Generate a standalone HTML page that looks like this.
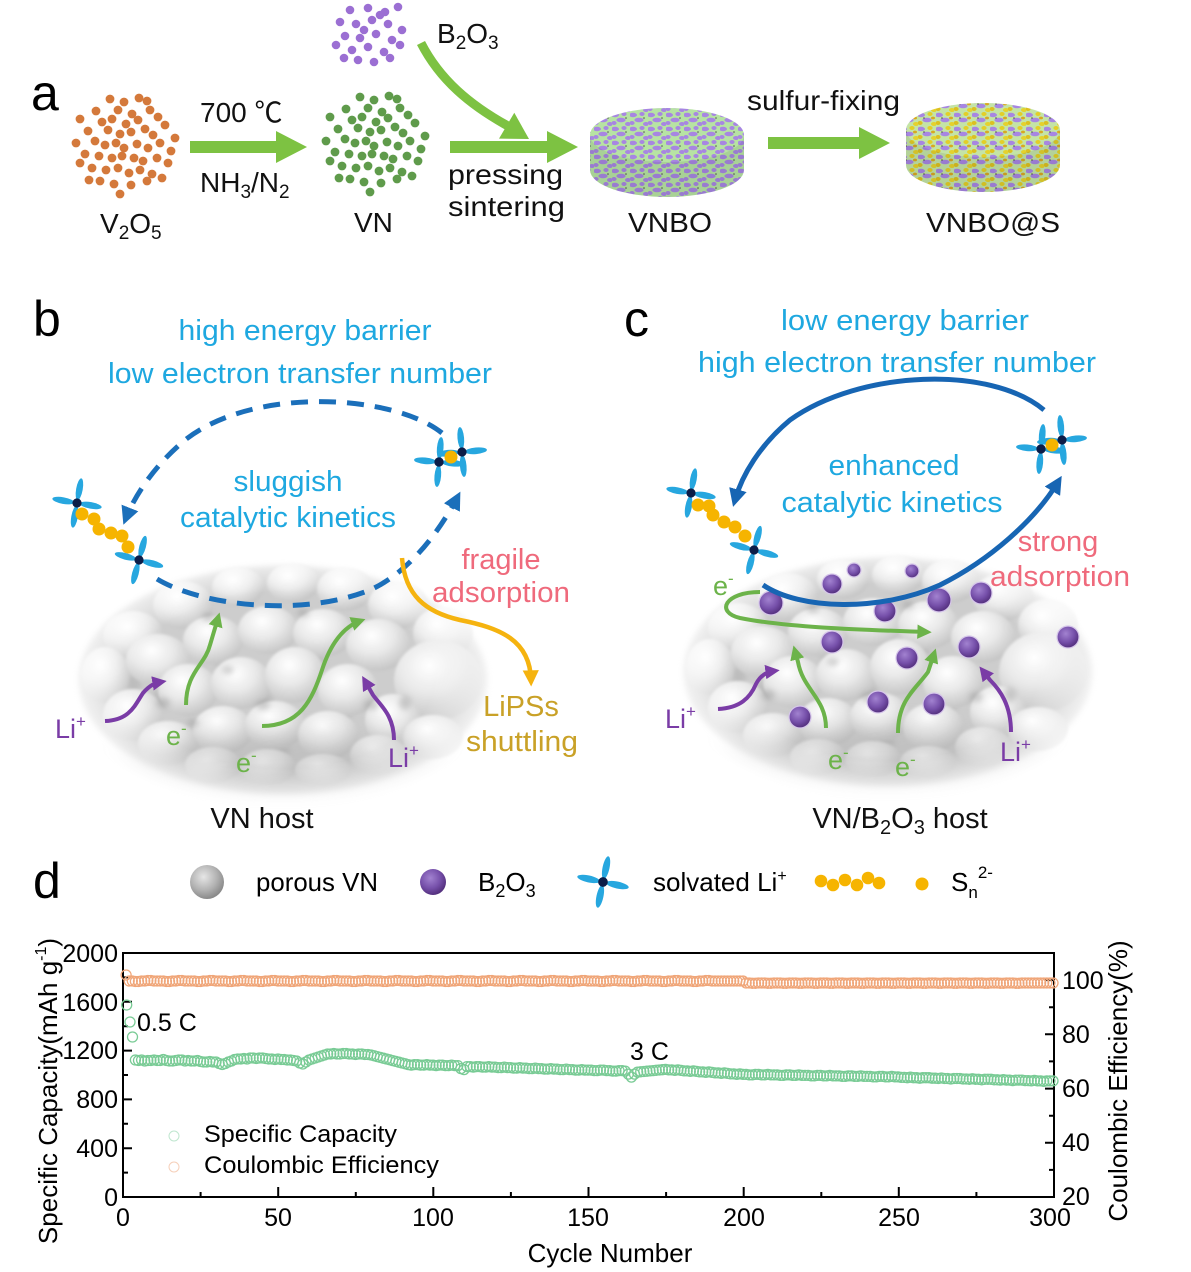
<!DOCTYPE html>
<html><head><meta charset="utf-8">
<style>
html,body{margin:0;padding:0;background:#fff;}
svg{display:block;}
text{font-family:"Liberation Sans","Noto Sans CJK SC",Arial,sans-serif;}
</style></head><body>
<svg width="1191" height="1272" viewBox="0 0 1191 1272" xmlns="http://www.w3.org/2000/svg" xmlns:xlink="http://www.w3.org/1999/xlink">
<defs>
  <filter id="bl1" x="-50%" y="-50%" width="200%" height="200%"><feGaussianBlur stdDeviation="1.2"/></filter>
  <filter id="bl3" x="-50%" y="-50%" width="200%" height="200%"><feGaussianBlur stdDeviation="3"/></filter>
  <filter id="bl12" x="-50%" y="-50%" width="200%" height="200%"><feGaussianBlur stdDeviation="12"/></filter>
  <radialGradient id="lg" cx="0.4" cy="0.32" r="0.68">
    <stop offset="0" stop-color="#ffffff"/><stop offset="0.5" stop-color="#e9e9e9"/><stop offset="1" stop-color="#c6c6c6"/>
  </radialGradient>
  <radialGradient id="bmg" cx="0.5" cy="0.5" r="0.5">
    <stop offset="0" stop-color="#fff"/><stop offset="0.68" stop-color="#fff"/><stop offset="1" stop-color="#000"/>
  </radialGradient>
  <radialGradient id="pg" cx="0.4" cy="0.35" r="0.65">
    <stop offset="0" stop-color="#a282d0"/><stop offset="0.6" stop-color="#7650aa"/><stop offset="1" stop-color="#54307e"/>
  </radialGradient>
  <radialGradient id="gsph" cx="0.4" cy="0.35" r="0.65">
    <stop offset="0" stop-color="#e6e6e6"/><stop offset="0.6" stop-color="#b3b3b3"/><stop offset="1" stop-color="#8a8a8a"/>
  </radialGradient>
  <mask id="bm" maskUnits="userSpaceOnUse" x="-270" y="-180" width="540" height="360">
    <ellipse cx="0" cy="5" rx="222" ry="130" fill="url(#bmg)"/>
  </mask>
  <g id="blob">
    <g mask="url(#bm)">
      <ellipse cx="0" cy="5" rx="205" ry="115" fill="#cdcdcd" filter="url(#bl3)"/>
      <g fill="#9a9a9a" opacity="0.3" filter="url(#bl3)">
        <ellipse cx="-120" cy="20" rx="10" ry="8"/><ellipse cx="-60" cy="-10" rx="8" ry="6"/>
        <ellipse cx="-20" cy="25" rx="10" ry="8"/><ellipse cx="35" cy="-15" rx="8" ry="6"/>
        <ellipse cx="85" cy="25" rx="10" ry="8"/><ellipse cx="-150" cy="10" rx="8" ry="10"/>
        <ellipse cx="-5" cy="75" rx="12" ry="8"/><ellipse cx="60" cy="40" rx="8" ry="8"/>
      </g>
      <g fill="url(#lg)" filter="url(#bl1)">
        <ellipse cx="-150" cy="-40" rx="30" ry="24"/><ellipse cx="-100" cy="-70" rx="30" ry="24"/>
        <ellipse cx="-45" cy="-88" rx="26" ry="20"/><ellipse cx="10" cy="-92" rx="26" ry="20"/>
        <ellipse cx="62" cy="-86" rx="28" ry="22"/><ellipse cx="115" cy="-70" rx="30" ry="24"/>
        <ellipse cx="160" cy="-42" rx="30" ry="26"/>
        <ellipse cx="-178" cy="0" rx="24" ry="28"/><ellipse cx="-125" cy="-15" rx="32" ry="26"/>
        <ellipse cx="-70" cy="-35" rx="30" ry="24"/><ellipse cx="-15" cy="-45" rx="30" ry="24"/>
        <ellipse cx="40" cy="-42" rx="30" ry="24"/><ellipse cx="95" cy="-30" rx="32" ry="26"/>
        <ellipse cx="155" cy="5" rx="44" ry="40"/>
        <ellipse cx="-150" cy="40" rx="30" ry="26"/><ellipse cx="-95" cy="15" rx="30" ry="26"/>
        <ellipse cx="-42" cy="8" rx="30" ry="26"/><ellipse cx="12" cy="0" rx="30" ry="28"/>
        <ellipse cx="65" cy="15" rx="30" ry="26"/><ellipse cx="110" cy="45" rx="28" ry="26"/>
        <ellipse cx="-115" cy="68" rx="30" ry="22"/><ellipse cx="-60" cy="55" rx="30" ry="24"/>
        <ellipse cx="-8" cy="50" rx="30" ry="24"/><ellipse cx="45" cy="60" rx="30" ry="24"/>
        <ellipse cx="95" cy="80" rx="28" ry="20"/><ellipse cx="150" cy="62" rx="30" ry="22"/>
        <ellipse cx="-70" cy="90" rx="28" ry="18"/><ellipse cx="-15" cy="92" rx="28" ry="18"/>
        <ellipse cx="40" cy="95" rx="28" ry="16"/>
      </g>
      <g fill="#8a8a8a" opacity="0.35" filter="url(#bl3)">
        <ellipse cx="-120" cy="28" rx="7" ry="5"/><ellipse cx="-55" cy="-5" rx="6" ry="4"/>
        <ellipse cx="-20" cy="30" rx="7" ry="5"/><ellipse cx="88" cy="30" rx="7" ry="5"/>
        <ellipse cx="122" cy="28" rx="6" ry="7"/><ellipse cx="-90" cy="48" rx="6" ry="4"/>
        <ellipse cx="20" cy="-62" rx="6" ry="4"/><ellipse cx="-75" cy="-58" rx="6" ry="4"/>
      </g>
      <ellipse cx="0" cy="92" rx="175" ry="32" fill="#a4a4a4" opacity="0.3" filter="url(#bl12)"/>
    </g>
  </g>
  <g id="cl">
    <circle cx="-16" cy="-44" r="4.4"/><circle cx="-2" cy="-41" r="4.4"/><circle cx="13" cy="-45" r="4.4"/><circle cx="21" cy="-42" r="4.4"/>
    <circle cx="-30" cy="-32" r="4.4"/><circle cx="-8" cy="-33" r="4.4"/><circle cx="6" cy="-29" r="4.4"/><circle cx="24" cy="-33" r="4.4"/>
    <circle cx="-46" cy="-24" r="4.4"/><circle cx="-24" cy="-21" r="4.4"/><circle cx="-14" cy="-24" r="4.4"/><circle cx="0" cy="-19" r="4.4"/>
    <circle cx="12" cy="-23" r="4.4"/><circle cx="32" cy="-26" r="4.4"/><circle cx="39" cy="-18" r="4.4"/><circle cx="-38" cy="-12" r="4.4"/>
    <circle cx="-18" cy="-13" r="4.4"/><circle cx="-6" cy="-9" r="4.4"/><circle cx="5" cy="-11" r="4.4"/><circle cx="19" cy="-14" r="4.4"/>
    <circle cx="27" cy="-8" r="4.4"/><circle cx="-50" cy="0" r="4.4"/><circle cx="-31" cy="-2" r="4.4"/><circle cx="-21" cy="2" r="4.4"/>
    <circle cx="-10" cy="0" r="4.4"/><circle cx="-2" cy="5" r="4.4"/><circle cx="11" cy="1" r="4.4"/><circle cx="22" cy="5" r="4.4"/>
    <circle cx="34" cy="0" r="4.4"/><circle cx="45" cy="8" r="4.4"/><circle cx="-41" cy="11" r="4.4"/><circle cx="-27" cy="13" r="4.4"/>
    <circle cx="-14" cy="15" r="4.4"/><circle cx="-4" cy="13" r="4.4"/><circle cx="8" cy="15" r="4.4"/><circle cx="17" cy="18" r="4.4"/>
    <circle cx="31" cy="15" r="4.4"/><circle cx="42" cy="20" r="4.4"/><circle cx="-34" cy="25" r="4.4"/><circle cx="-20" cy="27" r="4.4"/>
    <circle cx="-8" cy="25" r="4.4"/><circle cx="3" cy="30" r="4.4"/><circle cx="14" cy="27" r="4.4"/><circle cx="26" cy="31" r="4.4"/>
    <circle cx="-26" cy="38" r="4.4"/><circle cx="-12" cy="41" r="4.4"/><circle cx="5" cy="42" r="4.4"/><circle cx="21" cy="38" r="4.4"/>
    <circle cx="36" cy="35" r="4.4"/><circle cx="-6" cy="51" r="4.4"/><circle cx="-37" cy="37" r="4.4"/><circle cx="49" cy="-5" r="4.4"/>
    <circle cx="-46" cy="20" r="4.4"/>
  </g>
  <g id="li">
    <g fill="#27a7df">
      <ellipse cx="-14" cy="0" rx="11" ry="3.3"/><ellipse cx="14" cy="0" rx="11" ry="3.3"/>
      <ellipse cx="0" cy="-14" rx="3.3" ry="11"/><ellipse cx="0" cy="14" rx="3.3" ry="11"/>
    </g>
    <circle r="4.6" fill="#0c1d48"/>
  </g>
  <pattern id="pv" width="18" height="14" patternUnits="userSpaceOnUse">
    <rect width="18" height="14" fill="#b7e3a3"/>
    <ellipse cx="3" cy="3" rx="4" ry="2.2" fill="#a786e2"/><ellipse cx="12" cy="2" rx="2.6" ry="2" fill="#a786e2"/>
    <ellipse cx="9" cy="8" rx="4.6" ry="2.3" fill="#a786e2"/><ellipse cx="2" cy="11" rx="2.6" ry="2" fill="#a786e2"/>
    <ellipse cx="16" cy="12" rx="3" ry="2" fill="#a786e2"/><circle cx="14" cy="6" r="0.8" fill="#555"/>
  </pattern>
  <pattern id="ps" width="18" height="14" patternUnits="userSpaceOnUse">
    <rect width="18" height="14" fill="#c4e4a6"/>
    <ellipse cx="3" cy="3" rx="4" ry="2.2" fill="#a786e2"/><ellipse cx="12" cy="2" rx="2.6" ry="2" fill="#e3cf27"/>
    <ellipse cx="9" cy="8" rx="4.6" ry="2.3" fill="#a786e2"/><ellipse cx="2" cy="11" rx="2.6" ry="2" fill="#dcc021"/>
    <ellipse cx="16" cy="12" rx="3" ry="2" fill="#e5d22c"/><ellipse cx="15" cy="6" rx="2" ry="1.4" fill="#d9a820"/>
    <circle cx="6" cy="6" r="0.8" fill="#555"/>
  </pattern>
  <marker id="aB" viewBox="0 0 10 10" refX="6" refY="5" markerWidth="3.6" markerHeight="3.6" orient="auto"><path d="M0,0 L10,5 L0,10 z" fill="#1b6fba"/></marker>
  <marker id="aB2" viewBox="0 0 10 10" refX="6" refY="5" markerWidth="3.6" markerHeight="3.6" orient="auto"><path d="M0,0 L10,5 L0,10 z" fill="#1765b3"/></marker>
  <marker id="aG" viewBox="0 0 10 10" refX="6" refY="5" markerWidth="3.6" markerHeight="3.6" orient="auto"><path d="M0,0 L10,5 L0,10 z" fill="#6cb34a"/></marker>
  <marker id="aP" viewBox="0 0 10 10" refX="6" refY="5" markerWidth="3.6" markerHeight="3.6" orient="auto"><path d="M0,0 L10,5 L0,10 z" fill="#7a3ca6"/></marker>
  <marker id="aO" viewBox="0 0 10 10" refX="6" refY="5" markerWidth="3.6" markerHeight="3.6" orient="auto"><path d="M0,0 L10,5 L0,10 z" fill="#f5b30f"/></marker>
  <marker id="mg" markerUnits="userSpaceOnUse" markerWidth="14" markerHeight="14" refX="7" refY="7" overflow="visible"><circle cx="7" cy="7" r="5" fill="none" stroke="#79cb95" stroke-width="1.3"/></marker>
  <marker id="mo" markerUnits="userSpaceOnUse" markerWidth="14" markerHeight="14" refX="7" refY="7" overflow="visible"><circle cx="7" cy="7" r="5" fill="none" stroke="#f0a679" stroke-width="1.3"/></marker>
</defs>
<rect width="1191" height="1272" fill="#fff"/>

<!-- ============ Panel a ============ -->
<text x="31" y="110" font-size="50">a</text>
<use xlink:href="#cl" href="#cl" transform="translate(126,143)" fill="#d4793b"/>
<use xlink:href="#cl" href="#cl" transform="translate(376,141)" fill="#5f9b4b"/>
<g fill="#9b6fd3">
  <circle cx="350" cy="10" r="4.3"/><circle cx="368" cy="8" r="4.3"/><circle cx="385" cy="12" r="4.3"/><circle cx="398" cy="7" r="4.3"/>
  <circle cx="340" cy="22" r="4.3"/><circle cx="356" cy="24" r="4.3"/><circle cx="372" cy="20" r="4.3"/><circle cx="388" cy="24" r="4.3"/>
  <circle cx="402" cy="30" r="4.3"/><circle cx="345" cy="36" r="4.3"/><circle cx="360" cy="38" r="4.3"/><circle cx="376" cy="34" r="4.3"/>
  <circle cx="392" cy="40" r="4.3"/><circle cx="336" cy="45" r="4.3"/><circle cx="352" cy="50" r="4.3"/><circle cx="368" cy="47" r="4.3"/>
  <circle cx="384" cy="52" r="4.3"/><circle cx="400" cy="45" r="4.3"/><circle cx="358" cy="60" r="4.3"/><circle cx="374" cy="62" r="4.3"/>
  <circle cx="390" cy="58" r="4.3"/><circle cx="344" cy="58" r="4.3"/><circle cx="380" cy="15" r="4.3"/><circle cx="364" cy="30" r="4.3"/>
</g>
<g fill="#7dc242">
  <path d="M190,141 H276 V131 L307,147 L276,163 V153 H190 Z"/>
  <path d="M450,141 H547 V131 L578,147 L547,163 V153 H450 Z"/>
  <path d="M768,137 H859 V127 L890,143 L859,159 V149 H768 Z"/>
  <path d="M529,139 L499,138.6 L514.3,112.8 Z"/>
</g>
<path d="M421,43 C440,80 470,105 508,126" fill="none" stroke="#7dc242" stroke-width="9"/>
<g font-size="28" fill="#111">
  <text x="200" y="122">700 ℃</text>
  <text x="200" y="192">NH<tspan font-size="19" dy="6">3</tspan><tspan dy="-6">/N</tspan><tspan font-size="19" dy="6">2</tspan></text>
  <text x="437" y="43">B<tspan font-size="19" dy="6">2</tspan><tspan dy="-6">O</tspan><tspan font-size="19" dy="6">3</tspan></text>
  <text x="100" y="233">V<tspan font-size="19" dy="6">2</tspan><tspan dy="-6">O</tspan><tspan font-size="19" dy="6">5</tspan></text>
  <text x="354" y="232">VN</text>
  <text x="448" y="184" textLength="115" lengthAdjust="spacingAndGlyphs">pressing</text>
  <text x="448" y="216" textLength="117" lengthAdjust="spacingAndGlyphs">sintering</text>
  <text x="628" y="232" textLength="84" lengthAdjust="spacingAndGlyphs">VNBO</text>
  <text x="747" y="110" textLength="153" lengthAdjust="spacingAndGlyphs">sulfur-fixing</text>
  <text x="926" y="232" textLength="134" lengthAdjust="spacingAndGlyphs">VNBO@S</text>
</g>
<!-- discs -->
<g>
  <path d="M590,135 L590,170 A77,27 0 0 0 744,170 L744,135 Z" fill="url(#pv)"/>
  <path d="M590,135 L590,170 A77,27 0 0 0 744,170 L744,135 Z" fill="#000" opacity="0.08"/>
  <ellipse cx="667" cy="135" rx="77" ry="27" fill="url(#pv)"/>
  <path d="M906,130 L906,165 A77,27 0 0 0 1060,165 L1060,130 Z" fill="url(#ps)"/>
  <path d="M906,130 L906,165 A77,27 0 0 0 1060,165 L1060,130 Z" fill="#000" opacity="0.08"/>
  <ellipse cx="983" cy="130" rx="77" ry="27" fill="url(#ps)"/>
</g>

<!-- ============ Panel b ============ -->
<text x="33" y="336" font-size="50">b</text>
<g font-size="29" fill="#1ea8e0" text-anchor="middle">
  <text x="305" y="340" textLength="253" lengthAdjust="spacingAndGlyphs">high energy barrier</text>
  <text x="300" y="383" textLength="384" lengthAdjust="spacingAndGlyphs">low electron transfer number</text>
  <text x="288" y="491" textLength="109" lengthAdjust="spacingAndGlyphs">sluggish</text>
  <text x="288" y="527" textLength="216" lengthAdjust="spacingAndGlyphs">catalytic kinetics</text>
</g>
<use xlink:href="#blob" href="#blob" x="283" y="675"/>
<!-- dashed cycle -->
<g fill="none" stroke="#1b6fba" stroke-width="5" stroke-dasharray="17 11">
  <path d="M442,433 C395,395 255,385 185,440 C155,465 135,495 126,518" marker-end="url(#aB)"/>
  <path d="M157,579 C200,605 300,618 370,590 C410,572 440,530 457,498" marker-end="url(#aB)"/>
</g>
<!-- orange shuttling -->
<path d="M402,558 C405,595 425,612 460,620 C500,628 530,640 531,680" fill="none" stroke="#f5b30f" stroke-width="4.5" marker-end="url(#aO)"/>
<!-- green/purple arrows b -->
<g fill="none" stroke-width="4">
  <path d="M186,705 C186,672 205,665 210,645 L218,618" stroke="#6cb34a" marker-end="url(#aG)"/>
  <path d="M262,726 C300,726 312,700 322,670 C330,645 343,627 360,621" stroke="#6cb34a" marker-end="url(#aG)"/>
  <path d="M105,721 C130,720 135,705 143,693 C150,685 155,683 161,682" stroke="#7a3ca6" marker-end="url(#aP)"/>
  <path d="M394,740 C394,715 380,705 373,695 L365,681" stroke="#7a3ca6" marker-end="url(#aP)"/>
</g>
<!-- chain b -->
<use xlink:href="#li" href="#li" transform="translate(77,503) rotate(10)"/>
<g fill="#f6b400">
  <circle cx="82" cy="514" r="6.5"/><circle cx="94" cy="519" r="6.5"/><circle cx="99" cy="529" r="6.5"/>
  <circle cx="111" cy="533" r="6.5"/><circle cx="122" cy="536" r="6.5"/><circle cx="128" cy="547" r="6.5"/>
</g>
<use xlink:href="#li" href="#li" transform="translate(139,560) rotate(15)"/>
<use xlink:href="#li" href="#li" transform="translate(439,462) rotate(5)"/>
<use xlink:href="#li" href="#li" transform="translate(462,452) rotate(-5)"/>
<circle cx="451" cy="457" r="6.5" fill="#f6b400"/>
<circle cx="439" cy="462" r="4.6" fill="#0c1d48"/>
<g font-size="29" text-anchor="middle">
  <text x="501" y="569" fill="#ef6a7c">fragile</text>
  <text x="501" y="602" fill="#ef6a7c" textLength="138" lengthAdjust="spacingAndGlyphs">adsorption</text>
  <text x="521" y="716" fill="#c9a127">LiPSs</text>
  <text x="522" y="751" fill="#c9a127" textLength="112" lengthAdjust="spacingAndGlyphs">shuttling</text>
</g>
<g font-size="27">
  <text x="55" y="738" fill="#7a3ca6">Li<tspan font-size="17" dy="-11">+</tspan></text>
  <text x="388" y="767" fill="#7a3ca6">Li<tspan font-size="17" dy="-11">+</tspan></text>
  <text x="166" y="745" fill="#6cb34a">e<tspan font-size="17" dy="-11">-</tspan></text>
  <text x="236" y="772" fill="#6cb34a">e<tspan font-size="17" dy="-11">-</tspan></text>
</g>
<text x="262" y="828" font-size="29" text-anchor="middle" fill="#111">VN host</text>

<!-- ============ Panel c ============ -->
<text x="624" y="336" font-size="50">c</text>
<g font-size="29" fill="#1ea8e0" text-anchor="middle">
  <text x="905" y="330" textLength="248" lengthAdjust="spacingAndGlyphs">low energy barrier</text>
  <text x="897" y="372" textLength="398" lengthAdjust="spacingAndGlyphs">high electron transfer number</text>
  <text x="894" y="475" textLength="131" lengthAdjust="spacingAndGlyphs">enhanced</text>
  <text x="892" y="512" textLength="221" lengthAdjust="spacingAndGlyphs">catalytic kinetics</text>
</g>
<use xlink:href="#blob" href="#blob" x="888" y="667"/>
<g fill="url(#pg)" stroke="#d6c6ea" stroke-width="1.2">
  <circle cx="854" cy="570" r="7"/><circle cx="912" cy="571" r="7"/><circle cx="832" cy="584" r="10"/>
  <circle cx="771" cy="603" r="12"/><circle cx="885" cy="611" r="11"/><circle cx="939" cy="600" r="12"/>
  <circle cx="981" cy="593" r="11"/><circle cx="832" cy="642" r="11"/><circle cx="907" cy="658" r="11"/>
  <circle cx="969" cy="647" r="11"/><circle cx="1068" cy="637" r="11"/><circle cx="878" cy="702" r="11"/>
  <circle cx="934" cy="704" r="11"/><circle cx="800" cy="717" r="11"/>
</g>
<g fill="none" stroke-width="4">
  <path d="M760,592 C725,592 715,612 740,618 C790,628 870,630 926,632" stroke="#6cb34a" marker-end="url(#aG)"/>
  <path d="M826,728 C826,698 803,690 798,662 L795,651" stroke="#6cb34a" marker-end="url(#aG)"/>
  <path d="M898,733 C898,700 915,690 928,672 L934,654" stroke="#6cb34a" marker-end="url(#aG)"/>
  <path d="M718,709 C740,708 750,698 756,684 C760,676 766,672 774,671" stroke="#7a3ca6" marker-end="url(#aP)"/>
  <path d="M1011,732 C1011,705 1000,690 990,680 L983,671" stroke="#7a3ca6" marker-end="url(#aP)"/>
</g>
<g fill="none" stroke="#1765b3" stroke-width="5">
  <path d="M1044,410 C990,365 860,370 790,420 C760,445 742,475 735,500" marker-end="url(#aB2)"/>
  <path d="M763,585 C800,610 880,612 940,585 C990,560 1035,520 1058,482" marker-end="url(#aB2)"/>
</g>
<use xlink:href="#li" href="#li" transform="translate(691,493) rotate(10)"/>
<g fill="#f6b400">
  <circle cx="698" cy="505" r="6.5"/><circle cx="709" cy="506" r="6.5"/><circle cx="713" cy="515" r="6.5"/>
  <circle cx="724" cy="522" r="6.5"/><circle cx="735" cy="527" r="6.5"/><circle cx="745" cy="536" r="6.5"/>
</g>
<use xlink:href="#li" href="#li" transform="translate(754,550) rotate(15)"/>
<use xlink:href="#li" href="#li" transform="translate(1041,449) rotate(5)"/>
<use xlink:href="#li" href="#li" transform="translate(1062,440) rotate(-5)"/>
<circle cx="1052" cy="445" r="6.5" fill="#f6b400"/>
<circle cx="1041" cy="449" r="4.6" fill="#0c1d48"/>
<g font-size="29" text-anchor="middle" fill="#ef6a7c">
  <text x="1058" y="551">strong</text>
  <text x="1060" y="586" textLength="140" lengthAdjust="spacingAndGlyphs">adsorption</text>
</g>
<g font-size="27">
  <text x="713" y="595" fill="#6cb34a">e<tspan font-size="17" dy="-11">-</tspan></text>
  <text x="665" y="728" fill="#7a3ca6">Li<tspan font-size="17" dy="-11">+</tspan></text>
  <text x="828" y="769" fill="#6cb34a">e<tspan font-size="17" dy="-11">-</tspan></text>
  <text x="895" y="776" fill="#6cb34a">e<tspan font-size="17" dy="-11">-</tspan></text>
  <text x="1000" y="761" fill="#7a3ca6">Li<tspan font-size="17" dy="-11">+</tspan></text>
</g>
<text x="900" y="828" font-size="29" text-anchor="middle" fill="#111">VN/B<tspan font-size="20" dy="6">2</tspan><tspan dy="-6">O</tspan><tspan font-size="20" dy="6">3</tspan><tspan dy="-6"> host</tspan></text>

<!-- ============ Panel d legend ============ -->
<text x="33" y="898" font-size="50">d</text>
<circle cx="207" cy="882" r="17" fill="url(#gsph)"/>
<text x="256" y="891" font-size="26" textLength="122" lengthAdjust="spacingAndGlyphs">porous VN</text>
<circle cx="433" cy="882" r="13" fill="url(#pg)"/>
<text x="478" y="891" font-size="26">B<tspan font-size="18" dy="6">2</tspan><tspan dy="-6">O</tspan><tspan font-size="18" dy="6">3</tspan></text>
<use xlink:href="#li" href="#li" transform="translate(603,882) rotate(12) scale(1.05)"/>
<text x="653" y="891" font-size="26">solvated Li<tspan font-size="16" dy="-10">+</tspan></text>
<g fill="#f6b400">
  <circle cx="821" cy="881" r="6.3"/><circle cx="833" cy="885" r="6.3"/><circle cx="845" cy="880" r="6.3"/>
  <circle cx="857" cy="885" r="6.3"/><circle cx="868" cy="878" r="6.3"/><circle cx="879" cy="883" r="6.3"/>
  <circle cx="922" cy="884" r="6.5"/>
</g>
<text x="951" y="891" font-size="26">S<tspan font-size="17" dy="7">n</tspan><tspan font-size="17" dy="-20">2-</tspan></text>

<!-- ============ Chart ============ -->
<g stroke="#000" stroke-width="2" fill="none">
  <rect x="123" y="953" width="931" height="244"/>
  <path d="M123,1197 v-10 M278.2,1197 v-10 M433.3,1197 v-10 M588.5,1197 v-10 M743.7,1197 v-10 M898.8,1197 v-10 M1054,1197 v-10
           M200.6,1197 v-5 M355.8,1197 v-5 M510.9,1197 v-5 M666.1,1197 v-5 M821.3,1197 v-5 M976.4,1197 v-5"/>
  <path d="M123,1148.2 h9 M123,1099.4 h9 M123,1050.6 h9 M123,1001.8 h9
           M123,1172.6 h5 M123,1123.8 h5 M123,1075 h5 M123,1026.2 h5 M123,977.4 h5"/>
  <path d="M1054,1142.8 h-9 M1054,1088.6 h-9 M1054,1034.3 h-9 M1054,980.1 h-9
           M1054,1169.9 h-5 M1054,1115.7 h-5 M1054,1061.4 h-5 M1054,1007.2 h-5"/>
</g>
<g font-size="25" text-anchor="end">
  <text x="118" y="1206">0</text><text x="118" y="1157">400</text><text x="118" y="1108">800</text>
  <text x="118" y="1059">1200</text><text x="118" y="1011">1600</text><text x="118" y="962">2000</text>
</g>
<g font-size="25" text-anchor="middle">
  <text x="123" y="1226">0</text><text x="278" y="1226">50</text><text x="433" y="1226">100</text>
  <text x="588" y="1226">150</text><text x="744" y="1226">200</text><text x="899" y="1226">250</text><text x="1050" y="1226">300</text>
</g>
<g font-size="25">
  <text x="1062" y="1205">20</text><text x="1062" y="1151">40</text><text x="1062" y="1097">60</text>
  <text x="1062" y="1043">80</text><text x="1062" y="989">100</text>
</g>
<text transform="translate(57,1091) rotate(-90)" font-size="26" text-anchor="middle">Specific Capacity(mAh g<tspan font-size="16" dy="-11">-1</tspan><tspan dy="11">)</tspan></text>
<text transform="translate(1127,1081) rotate(-90)" font-size="26" text-anchor="middle">Coulombic Efficiency(%)</text>
<text x="610" y="1262" font-size="26" text-anchor="middle">Cycle Number</text>
<text x="137" y="1031" font-size="25">0.5 C</text>
<text x="630" y="1060" font-size="25">3 C</text>
<circle cx="174" cy="1136" r="5" fill="none" stroke="#bfe6cf" stroke-width="1"/>
<circle cx="174" cy="1167" r="5" fill="none" stroke="#f6d0ba" stroke-width="1"/>
<text x="204" y="1142" font-size="24" textLength="193" lengthAdjust="spacingAndGlyphs">Specific Capacity</text>
<text x="204" y="1173" font-size="24" textLength="235" lengthAdjust="spacingAndGlyphs">Coulombic Efficiency</text>

<!-- CE series -->
<path fill="none" stroke="none" marker-start="url(#mo)" marker-mid="url(#mo)" marker-end="url(#mo)" d="M126.1,975 l3.1,6
h3.1 l3.1,.5 h3.1 l3.1,-.5 h3.1 l3.1,-.5 h3.1 l3.1,.5 h3.1 h3.1
h3.1 l3.1,.5 h3.1 l3.1,-.5 h3.1 l3.1,-.5 h3.1 l3.1,.5 h3.1 h3.1
h3.1 l3.1,.5 h3.1 l3.1,-.5 h3.1 l3.1,-.5 h3.1 l3.1,.5 h3.1 h3.1
h3.1 l3.1,.5 h3.1 l3.1,-.5 h3.1 l3.1,-.5 h3.1 l3.1,.5 h3.1 h3.1
h3.1 l3.1,.5 h3.1 l3.1,-.5 h3.1 l3.1,-.5 h3.1 l3.1,.5 h3.1 h3.1
h3.1 l3.1,.5 h3.1 l3.1,-.5 h3.1 l3.1,-.5 h3.1 l3.1,.5 h3.1 h3.1
h3.1 l3.1,.5 h3.1 l3.1,-.5 h3.1 l3.1,-.5 h3.1 l3.1,.5 h3.1 h3.1
h3.1 l3.1,.5 h3.1 l3.1,-.5 h3.1 l3.1,-.5 h3.1 l3.1,.5 h3.1 h3.1
h3.1 l3.1,.5 h3.1 l3.1,-.5 h3.1 l3.1,-.5 h3.1 l3.1,.5 h3.1 h3.1
h3.1 l3.1,.5 h3.1 l3.1,-.5 h3.1 l3.1,-.5 h3.1 l3.1,.5 h3.1 h3.1
h3.1 l3.1,.5 h3.1 l3.1,-.5 h3.1 l3.1,-.5 h3.1 l3.1,.5 h3.1 h3.1
h3.1 l3.1,.5 h3.1 l3.1,-.5 h3.1 l3.1,-.5 h3.1 l3.1,.5 h3.1 h3.1
h3.1 l3.1,.5 h3.1 l3.1,-.5 h3.1 l3.1,-.5 h3.1 l3.1,.5 h3.1 h3.1
h3.1 l3.1,.5 h3.1 l3.1,-.5 h3.1 l3.1,-.5 h3.1 l3.1,.5 h3.1 h3.1
h3.1 l3.1,.5 h3.1 l3.1,-.5 h3.1 l3.1,-.5 h3.1 l3.1,.5 h3.1 h3.1
h3.1 l3.1,.5 h3.1 l3.1,-.5 h3.1 l3.1,-.5 h3.1 l3.1,.5 h3.1 h3.1
h3.1 l3.1,.5 h3.1 l3.1,-.5 h3.1 l3.1,-.5 h3.1 l3.1,.5 h3.1 h3.1
h3.1 l3.1,.5 h3.1 l3.1,-.5 h3.1 l3.1,-.5 h3.1 l3.1,.5 h3.1 h3.1
h3.1 l3.1,.5 h3.1 l3.1,-.5 h3.1 l3.1,-.5 h3.1 l3.1,.5 h3.1 h3.1
h3.1 h3.1 h3.1 h3.1 h3.1 h3.1 h3.1 h3.1
l3.1,2
h3.1 l3.1,.3 h3.1 l3.1,-.3 h3.1 h3.1 l3.1,.3 h3.1 l3.1,-.3 h3.1
h3.1 l3.1,.3 h3.1 l3.1,-.3 h3.1 h3.1 l3.1,.3 h3.1 l3.1,-.3 h3.1
h3.1 l3.1,.3 h3.1 l3.1,-.3 h3.1 h3.1 l3.1,.3 h3.1 l3.1,-.3 h3.1
h3.1 l3.1,.3 h3.1 l3.1,-.3 h3.1 h3.1 l3.1,.3 h3.1 l3.1,-.3 h3.1
h3.1 l3.1,.3 h3.1 l3.1,-.3 h3.1 h3.1 l3.1,.3 h3.1 l3.1,-.3 h3.1
h3.1 l3.1,.3 h3.1 l3.1,-.3 h3.1 h3.1 l3.1,.3 h3.1 l3.1,-.3 h3.1
h3.1 l3.1,.3 h3.1 l3.1,-.3 h3.1 h3.1 l3.1,.3 h3.1 l3.1,-.3 h3.1
h3.1 l3.1,.3 h3.1 l3.1,-.3 h3.1 h3.1 l3.1,.3 h3.1 l3.1,-.3 h3.1
h3.1 l3.1,.3 h3.1 l3.1,-.3 h3.1 h3.1 l3.1,.3 h3.1 l3.1,-.3 h3.1
h3.1 h3.1 h3.1 h3.1 h3.1 h3.1 h3.1 h3.1 h3.1"/>

<!-- capacity 0.5C -->
<g fill="none" stroke="#79cb95" stroke-width="1.3">
  <circle cx="126.7" cy="1005" r="5"/><circle cx="130" cy="1022" r="5"/><circle cx="132.5" cy="1037" r="5"/>
</g>
<!-- capacity 3C -->
<path fill="none" stroke="none" marker-start="url(#mg)" marker-mid="url(#mg)" marker-end="url(#mg)" d="M135.4,1060
l3.1,.5 l3.1,-.5 l3.1,1 l3.1,-.5 h3.1 l3.1,-.5 l3.1,.5 h3.1 l3.1,-1 l3.1,1 l3.1,.5 h3.1 l3.1,-.5 l3.1,-.5 h3.1 l3.1,1 l3.1,-.5 l3.1,.5 h3.1 l3.1,-.5 l3.1,1 l3.1,.5 h3.1 l3.1,-.5 l3.1,.5 h3.1
l3.1,1.5 l3.1,1 l3.1,-1 l3.1,-1.5 l3.1,-1 l3.1,-1.5
l3.1,-.5 h3.1 l3.1,-.5 l3.1,.5 l3.1,-1 h3.1 l3.1,.5 l3.1,-.5 h3.1 l3.1,.5
l3.1,.5 h3.1 l3.1,.5 l3.1,-.5 l3.1,.5 h3.1 l3.1,.5 h3.1 l3.1,.5 l3.1,.5
l3.1,2 l3.1,1 l3.1,-2 l3.1,-2
l3.1,-1 l3.1,-1 l3.1,-1 l3.1,-1 l3.1,-1 l3.1,-1
h3.1 l3.1,-.5 l3.1,.5 h3.1 l3.1,-.5 h3.1 l3.1,.5 h3.1 l3.1,.5 l3.1,-.5 h3.1 l3.1,.5 h3.1 l3.1,.5
l3.1,.8 l3.1,.8 l3.1,.8 l3.1,.8 l3.1,.8 l3.1,.8 l3.1,.8 l3.1,.8 l3.1,.8 l3.1,.8 l3.1,.8 l3.1,.8
l3.1,.5 l3.1,-.5 h3.1 l3.1,.5 h3.1 l3.1,-.5 l3.1,.5 h3.1 l3.1,.5 l3.1,-.5 h3.1 l3.1,.5 h3.1 l3.1,-.5 l3.1,.5 h3.1
l3.1,3 l3.1,1 l3.1,-3
h3.1 l3.1,.5 l3.1,-.5 h3.1 l3.1,.5 h3.1 l3.1,-.5 l3.1,.5 h3.1 l3.1,.5 h3.1 l3.1,-.5 l3.1,.5 h3.1
l3.1,.5 h3.1 l3.1,-.5 l3.1,.5 h3.1 l3.1,.5 h3.1 l3.1,-.5 l3.1,.5 h3.1
l3.1,.5 h3.1 l3.1,-.5 l3.1,.5 h3.1 l3.1,.5 h3.1 l3.1,-.5 l3.1,.5 h3.1
l3.1,.5 h3.1 l3.1,-.5 l3.1,.5 h3.1
h3.1 l3.1,.5 h3.1 l3.1,-.5 h3.1 l3.1,.5 h3.1 l3.1,.5 h3.1 l3.1,-.5 h3.1 l3.1,.5
l3.1,3 l3.1,3 l3.1,-3 l3.1,-2
l3.1,-.3 l3.1,-.3 l3.1,-.3 l3.1,-.3 l3.1,-.3 l3.1,-.3 l3.1,-.3 l3.1,-.3 l3.1,-.3
l3.1,.5 h3.1 l3.1,.5 l3.1,-.5 l3.1,.5
l3.1,.5 h3.1 l3.1,.5 l3.1,-.5 l3.1,.5
l3.1,.5 h3.1 l3.1,.5 l3.1,-.5 l3.1,.5
l3.1,.5 h3.1 l3.1,.5 l3.1,-.5 l3.1,.5
l3.1,.5 h3.1 l3.1,.5 l3.1,-.5 l3.1,.5
h3.1 l3.1,.5 h3.1 l3.1,-.5 h3.1 l3.1,.5 h3.1 l3.1,-.5 l3.1,.5 h3.1
h3.1 l3.1,.5 h3.1 l3.1,-.5 h3.1 l3.1,.5 h3.1 l3.1,-.5 l3.1,.5 h3.1
h3.1 l3.1,.5 h3.1 l3.1,-.5 h3.1 l3.1,.5 h3.1 l3.1,-.5 l3.1,.5 h3.1
h3.1 l3.1,.5 h3.1 l3.1,-.5 h3.1 l3.1,.5 h3.1 l3.1,-.5 l3.1,.5 h3.1
h3.1 l3.1,.5 h3.1 l3.1,-.5 h3.1 l3.1,.5 h3.1 l3.1,-.5 l3.1,.5 h3.1
l3.1,.5 h3.1 l3.1,.3 l3.1,-.5 l3.1,.5 h3.1 l3.1,.5 l3.1,-.5 h3.1 h3.1
l3.1,.5 h3.1 l3.1,.3 l3.1,-.5 l3.1,.5 h3.1 l3.1,.5 l3.1,-.5 h3.1 h3.1
l3.1,.5 h3.1 l3.1,.3 l3.1,-.5 l3.1,.5 h3.1 l3.1,.5 l3.1,-.5 h3.1 h3.1
l3.1,.5 h3.1 l3.1,.3 l3.1,-.5 l3.1,.5 h3.1 l3.1,.5 l3.1,-.5 h3.1 h3.1
l3.1,.5 h3.1 l3.1,.3 l3.1,-.5 l3.1,.5 h3.1 l3.1,.5 l3.1,-.5 h3.1 h3.1"/>
</svg>
</body></html>
